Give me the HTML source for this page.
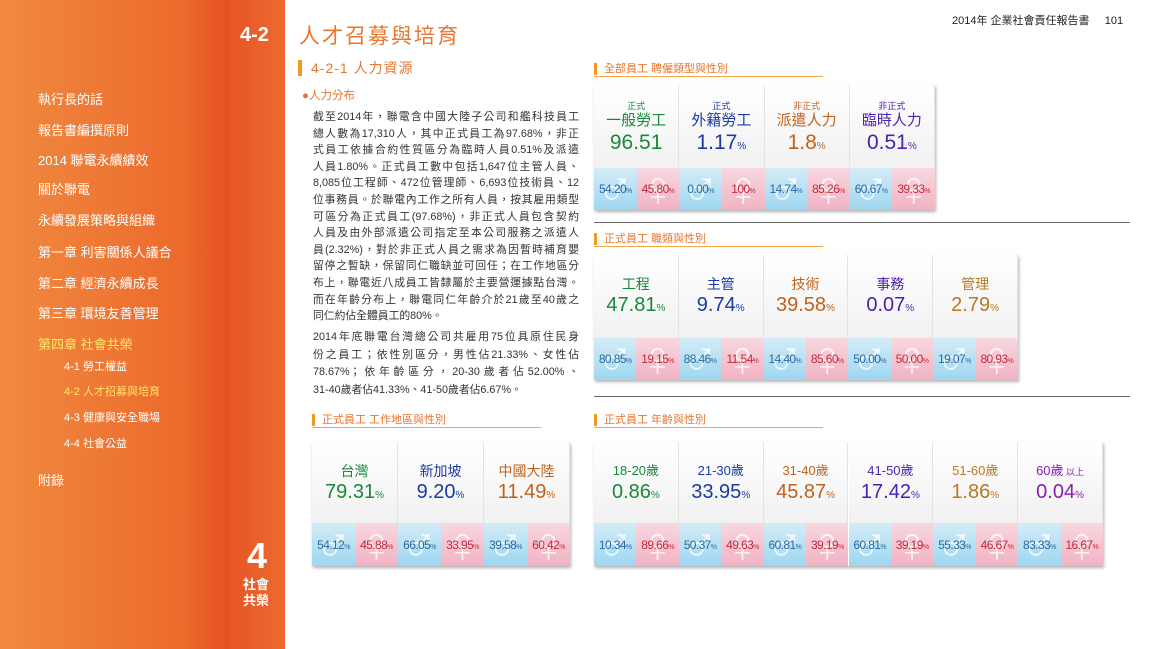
<!DOCTYPE html>
<html><head><meta charset="utf-8"><style>
*{margin:0;padding:0;box-sizing:border-box}
body{width:1150px;height:649px;overflow:hidden;background:#fff;position:relative;font-family:"Liberation Sans","Noto Sans CJK TC",sans-serif}
.a{position:absolute;white-space:nowrap}
#side{position:absolute;left:0;top:0;width:230px;height:649px;background:linear-gradient(90deg,#f08a40,#ec6a2c 80%,#e4501f)}
#strip{position:absolute;left:230px;top:0;width:55px;height:649px;background:linear-gradient(90deg,#e65526,#ee6a30)}
.m{color:#fff;font-size:13px;left:38px}
.s{color:#fff;font-size:11px;left:64px}
.hd{font-size:11px;color:#e8762e;padding-left:7px;border-left:3px solid #f29a1e;line-height:12px}
.ul{position:absolute;height:1px;background:#f3a74a}
.card{position:absolute;box-shadow:1px 2px 3px rgba(0,0,0,.3);background:#fff}
.col{position:absolute;top:0;border-right:1px solid #e3e3e3;background:linear-gradient(#fff,#f1f1f1)}
.g{position:absolute;font-size:12px;display:flex;align-items:center;justify-content:center;letter-spacing:-.6px;overflow:hidden}
.g small{font-size:7px}
.g i{position:absolute;font-style:normal;font-size:50px;color:rgba(255,255,255,.75);left:50%;top:50%;transform:translate(-50%,-50%);z-index:0;letter-spacing:0;line-height:1}
.g span{position:relative;z-index:1}
.ml{background:linear-gradient(#d3ecf7,#9fd6f1);color:#2a6aa0}
.fm{background:linear-gradient(#f8d7df,#f1b3c3);color:#c42a3a}
.lab{position:absolute;width:100%;text-align:center;line-height:1}
.t{position:absolute;left:313px;width:266px;font-size:10.8px;line-height:16.6px;color:#333}
.t div{white-space:nowrap;text-align:justify;text-align-last:justify}
.t div.l{text-align-last:left}
</style></head><body>
<div id="side"></div><div id="strip"></div>
<div class="a" style="left:240px;top:24px;color:#fff;font-weight:bold;font-size:20px">4-2</div>
<div class="a m" style="top:89px">執行長的話</div>
<div class="a m" style="top:120px">報告書編撰原則</div>
<div class="a m" style="top:150px">2014 聯電永續績效</div>
<div class="a m" style="top:179px">關於聯電</div>
<div class="a m" style="top:210px">永續發展策略與組織</div>
<div class="a m" style="top:242px">第一章 利害關係人議合</div>
<div class="a m" style="top:273px">第二章 經濟永續成長</div>
<div class="a m" style="top:303px">第三章 環境友善管理</div>
<div class="a m" style="top:334px;color:#ffe56a">第四章 社會共榮</div>
<div class="a s" style="top:358px">4-1 勞工權益</div>
<div class="a s" style="top:383px;color:#ffe56a">4-2 人才招募與培育</div>
<div class="a s" style="top:409px">4-3 健康與安全職場</div>
<div class="a s" style="top:435px">4-4 社會公益</div>
<div class="a m" style="top:470px">附錄</div>
<div class="a" style="left:247px;top:535px;color:#fff;font-size:36px;font-weight:bold">4</div>
<div class="a" style="left:243px;top:577px;color:#fff;font-size:13px;font-weight:bold;line-height:16px">社會<br>共榮</div>
<div class="a" style="left:952px;top:12px;font-size:11px;color:#222">2014年 企業社會責任報告書 &nbsp;&nbsp;&nbsp;&nbsp;101</div>
<div class="a" style="left:299px;top:20px;font-size:21px;color:#e8762e;letter-spacing:2px">人才召募與培育</div>
<div class="a" style="left:298px;top:60px;font-size:14px;color:#e8762e;border-left:4px solid #f29a1e;padding-left:9px;line-height:16px;letter-spacing:1px">4-2-1 人力資源</div>
<div class="a" style="left:302px;top:87px;font-size:11.5px;color:#e8762e">●人力分布</div>
<div class="t" style="top:109px">
<div>截至2014年，聯電含中國大陸子公司和艦科技員工</div>
<div>總人數為17,310人，其中正式員工為97.68%，非正</div>
<div>式員工依據合約性質區分為臨時人員0.51%及派遣</div>
<div>人員1.80%。正式員工數中包括1,647位主管人員、</div>
<div>8,085位工程師、472位管理師、6,693位技術員、12</div>
<div>位事務員。於聯電內工作之所有人員，按其雇用類型</div>
<div>可區分為正式員工(97.68%)，非正式人員包含契約</div>
<div>人員及由外部派遣公司指定至本公司服務之派遣人</div>
<div>員(2.32%)，對於非正式人員之需求為因暫時補育嬰</div>
<div>留停之暫缺，保留同仁職缺並可回任；在工作地區分</div>
<div>布上，聯電近八成員工皆隸屬於主要營運據點台灣。</div>
<div>而在年齡分布上，聯電同仁年齡介於21歲至40歲之</div>
<div class="l">同仁約佔全體員工的80%。</div>
</div>
<div class="t" style="top:329px;line-height:17.5px">
<div>2014年底聯電台灣總公司共雇用75位具原住民身</div>
<div>份之員工；依性別區分，男性佔21.33%、女性佔</div>
<div>78.67%；依年齡區分，20-30歲者佔52.00%、</div>
<div class="l">31-40歲者佔41.33%、41-50歲者佔6.67%。</div>
</div>
<div class="a hd" style="left:594px;top:63px">全部員工 聘僱類型與性別</div><div class="ul" style="left:594px;top:76px;width:229px"></div>
<div class="a hd" style="left:594px;top:233px">正式員工 職類與性別</div><div class="ul" style="left:594px;top:246px;width:229px"></div>
<div class="a hd" style="left:312px;top:414px">正式員工 工作地區與性別</div><div class="ul" style="left:312px;top:427px;width:229px"></div>
<div class="a hd" style="left:594px;top:414px">正式員工 年齡與性別</div><div class="ul" style="left:594px;top:427px;width:229px"></div>
<div class="a" style="left:594px;top:222px;width:536px;height:1px;background:#666"></div>
<div class="a" style="left:594px;top:396px;width:536px;height:1px;background:#666"></div>
<div id="cards"></div>
<script>
function card(x,y,w,cols,topH,botH){
 var n=cols.length,cw=w/n,h='<div class="card" style="left:'+x+'px;top:'+y+'px;width:'+w+'px;height:'+(topH+botH)+'px">';
 cols.forEach(function(c,i){
  h+='<div class="col" style="left:'+(i*cw)+'px;width:'+cw+'px;height:'+topH+'px">';
  if(c.sub){
   h+='<div class="lab" style="top:17px;font-size:9px;color:'+c.c+'">'+c.sub+'</div>';
   h+='<div class="lab" style="top:28px;font-size:15px;color:'+c.c+'">'+c.l+'</div>';
   h+='<div class="lab" style="top:47px;font-size:21px;color:'+c.c+'">'+c.v+'<small style="font-size:10px">'+(c.p===false?'':'%')+'</small></div></div>';
  }else{
   h+='<div class="lab" style="top:22px;font-size:'+(c.ls||14)+'px;color:'+c.c+'">'+c.l+'</div>';
   h+='<div class="lab" style="top:40px;font-size:20px;color:'+c.c+'">'+c.v+'<small style="font-size:10px">%</small></div></div>';
  }
  h+='<div class="g ml" style="left:'+(i*cw)+'px;top:'+topH+'px;width:'+(cw/2)+'px;height:'+botH+'px"><i>♂</i><span>'+c.m+'<small>%</small></span></div>';
  h+='<div class="g fm" style="left:'+(i*cw+cw/2)+'px;top:'+topH+'px;width:'+(cw/2)+'px;height:'+botH+'px"><i>♀</i><span>'+c.f+'<small>%</small></span></div>';
 });
 return h+'</div>';
}
var G='#17893a',B='#1b3aa6',O='#c0621c',P='#4b1fb2',Y='#b87a20',V='#8a1fb8';
var H='';
H+=card(594,85,341,[
 {sub:'正式',l:'一般勞工',v:'96.51',p:false,c:G,m:'54.20',f:'45.80'},
 {sub:'正式',l:'外籍勞工',v:'1.17',c:B,m:'0.00',f:'100'},
 {sub:'非正式',l:'派遣人力',v:'1.8',c:O,m:'14.74',f:'85.26'},
 {sub:'非正式',l:'臨時人力',v:'0.51',c:P,m:'60.67',f:'39.33'}],83,42);
H+=card(594,255,424,[
 {l:'工程',v:'47.81',c:G,m:'80.85',f:'19.15'},
 {l:'主管',v:'9.74',c:B,m:'88.46',f:'11.54'},
 {l:'技術',v:'39.58',c:O,m:'14.40',f:'85.60'},
 {l:'事務',v:'0.07',c:P,m:'50.00',f:'50.00'},
 {l:'管理',v:'2.79',c:Y,m:'19.07',f:'80.93'}],83,42);
H+=card(312,442,258,[
 {l:'台灣',v:'79.31',c:G,m:'54.12',f:'45.88'},
 {l:'新加坡',v:'9.20',c:B,m:'66.05',f:'33.95'},
 {l:'中國大陸',v:'11.49',c:O,m:'39.58',f:'60.42'}],81,43);
H+=card(594,442,509,[
 {l:'18-20歲',v:'0.86',c:G,ls:13,m:'10.34',f:'89.66'},
 {l:'21-30歲',v:'33.95',c:B,ls:13,m:'50.37',f:'49.63'},
 {l:'31-40歲',v:'45.87',c:O,ls:13,m:'60.81',f:'39.19'},
 {l:'41-50歲',v:'17.42',c:P,ls:13,m:'60.81',f:'39.19'},
 {l:'51-60歲',v:'1.86',c:Y,ls:13,m:'55.33',f:'46.67'},
 {l:'60歲<span style="font-size:9px"> 以上</span>',v:'0.04',c:V,ls:13,m:'83.33',f:'16.67'}],81,43);
document.getElementById('cards').innerHTML=H;
</script>
</body></html>
